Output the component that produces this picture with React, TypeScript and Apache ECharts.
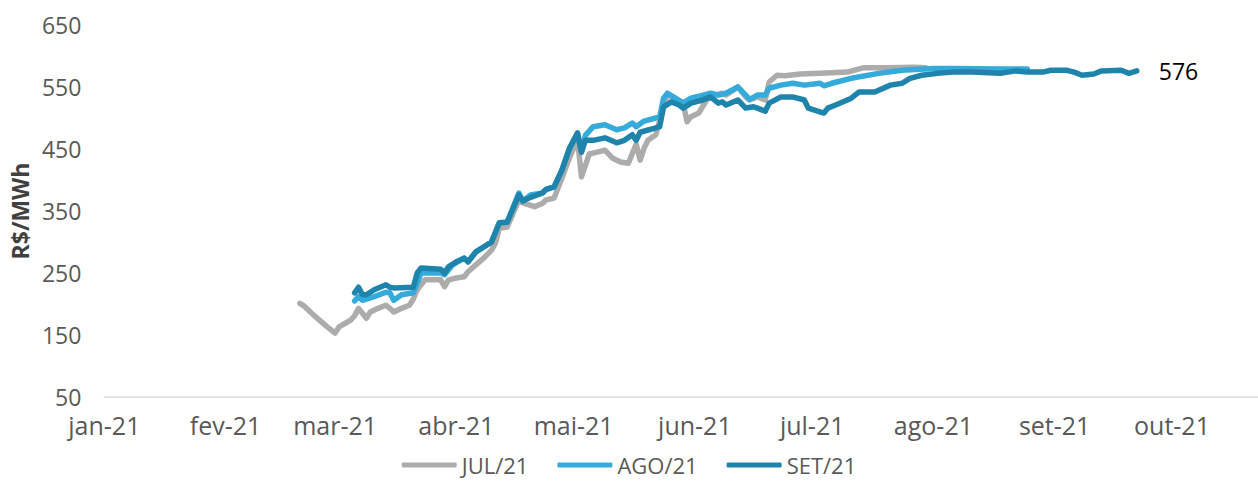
import React, { useEffect, useRef } from "react";
import * as echarts from "echarts";

const monthLabels = ["jan", "fev", "mar", "abr", "mai", "jun", "jul", "ago", "set", "out", "nov", "dez"];
const yTicks = [50, 150, 250, 350, 450, 550, 650];

const julDates = [
  "2021-02-20", "2021-02-21", "2021-02-23", "2021-02-25", "2021-02-27", "2021-03-01", "2021-03-02", "2021-03-05",
  "2021-03-06", "2021-03-07", "2021-03-08", "2021-03-09", "2021-03-10", "2021-03-12", "2021-03-14", "2021-03-15",
  "2021-03-16", "2021-03-18", "2021-03-20", "2021-03-21", "2021-03-22", "2021-03-24", "2021-03-28", "2021-03-29",
  "2021-03-30", "2021-04-01", "2021-04-03", "2021-04-04", "2021-04-06", "2021-04-08", "2021-04-10", "2021-04-11",
  "2021-04-12", "2021-04-14", "2021-04-17", "2021-04-18", "2021-04-21", "2021-04-23", "2021-04-24", "2021-04-26",
  "2021-04-28", "2021-04-30", "2021-05-02", "2021-05-03", "2021-05-05", "2021-05-07", "2021-05-09", "2021-05-11",
  "2021-05-13", "2021-05-15", "2021-05-17", "2021-05-18", "2021-05-19", "2021-05-20", "2021-05-22", "2021-05-24",
  "2021-05-25", "2021-05-27", "2021-05-29", "2021-05-30", "2021-05-31", "2021-06-02", "2021-06-04", "2021-06-06",
  "2021-06-08", "2021-06-09", "2021-06-12", "2021-06-14", "2021-06-15", "2021-06-17", "2021-06-19", "2021-06-20",
  "2021-06-22", "2021-06-24", "2021-06-28", "2021-07-03", "2021-07-10", "2021-07-14", "2021-07-20", "2021-07-27",
  "2021-07-30",
];
const julValues = [
  201, 197, 185, 174, 163, 153, 163, 174,
  181, 193, 185, 177, 187, 193, 198, 193,
  187, 193, 198, 208, 223, 239, 239, 228,
  239, 242, 244, 252, 263, 274, 287, 298,
  322, 324, 368, 363, 357, 362, 368, 371,
  403, 437, 465, 405, 442, 445, 448, 435,
  429, 427, 458, 432, 451, 464, 473, 518,
  537, 532, 524, 494, 502, 508, 529, 537,
  540, 537, 550, 534, 529, 534, 529, 558,
  569, 568, 571, 572, 574, 581, 581, 582,
  581,
];

const agoDates = [
  "2021-03-06", "2021-03-07", "2021-03-08", "2021-03-11", "2021-03-14", "2021-03-15", "2021-03-16", "2021-03-18",
  "2021-03-21", "2021-03-22", "2021-03-23", "2021-03-28", "2021-03-29", "2021-03-31", "2021-04-03", "2021-04-04",
  "2021-04-06", "2021-04-08", "2021-04-10", "2021-04-12", "2021-04-14", "2021-04-17", "2021-04-18", "2021-04-20",
  "2021-04-23", "2021-04-24", "2021-04-26", "2021-04-28", "2021-04-30", "2021-05-02", "2021-05-03", "2021-05-04",
  "2021-05-06", "2021-05-09", "2021-05-12", "2021-05-14", "2021-05-16", "2021-05-17", "2021-05-19", "2021-05-22",
  "2021-05-23", "2021-05-24", "2021-05-25", "2021-05-27", "2021-05-29", "2021-05-31", "2021-06-02", "2021-06-05",
  "2021-06-07", "2021-06-09", "2021-06-12", "2021-06-14", "2021-06-15", "2021-06-17", "2021-06-19", "2021-06-20",
  "2021-06-23", "2021-06-26", "2021-06-29", "2021-07-03", "2021-07-04", "2021-07-06", "2021-07-11", "2021-07-18",
  "2021-07-24", "2021-08-01", "2021-08-06", "2021-08-18", "2021-08-25",
];
const agoValues = [
  205, 212, 206, 212, 219, 218, 206, 215,
  218, 234, 250, 250, 247, 263, 274, 268,
  284, 292, 300, 331, 332, 379, 366, 376,
  379, 385, 389, 416, 452, 474, 445, 472,
  486, 489, 481, 484, 492, 486, 495, 500,
  502, 532, 540, 532, 524, 532, 535, 540,
  537, 540, 550, 537, 530, 537, 537, 548,
  553, 556, 553, 556, 552, 556, 564, 572,
  577, 580, 580, 579, 579,
];

const setDates = [
  "2021-03-06", "2021-03-07", "2021-03-08", "2021-03-09", "2021-03-11", "2021-03-14", "2021-03-15", "2021-03-16",
  "2021-03-21", "2021-03-22", "2021-03-23", "2021-03-28", "2021-03-29", "2021-03-30", "2021-04-01", "2021-04-03",
  "2021-04-04", "2021-04-06", "2021-04-08", "2021-04-10", "2021-04-12", "2021-04-14", "2021-04-17", "2021-04-18",
  "2021-04-20", "2021-04-23", "2021-04-24", "2021-04-26", "2021-04-28", "2021-04-30", "2021-05-02", "2021-05-03",
  "2021-05-04", "2021-05-06", "2021-05-09", "2021-05-12", "2021-05-14", "2021-05-16", "2021-05-17", "2021-05-18",
  "2021-05-22", "2021-05-23", "2021-05-24", "2021-05-26", "2021-05-28", "2021-05-29", "2021-05-31", "2021-06-03",
  "2021-06-05", "2021-06-07", "2021-06-08", "2021-06-09", "2021-06-12", "2021-06-14", "2021-06-16", "2021-06-17",
  "2021-06-19", "2021-06-20", "2021-06-23", "2021-06-26", "2021-06-29", "2021-06-30", "2021-07-04", "2021-07-05",
  "2021-07-07", "2021-07-11", "2021-07-13", "2021-07-17", "2021-07-21", "2021-07-24", "2021-07-26", "2021-07-29",
  "2021-08-02", "2021-08-06", "2021-08-11", "2021-08-18", "2021-08-22", "2021-08-25", "2021-08-29", "2021-08-31",
  "2021-09-04", "2021-09-06", "2021-09-08", "2021-09-11", "2021-09-13", "2021-09-18", "2021-09-20", "2021-09-22",
];
const setValues = [
  218, 227, 215, 215, 223, 231, 227, 226,
  227, 250, 258, 256, 250, 260, 268, 274,
  268, 284, 292, 300, 331, 332, 376, 366,
  372, 379, 385, 389, 416, 452, 476, 445,
  464, 464, 468, 460, 464, 473, 464, 477,
  484, 486, 518, 526, 521, 516, 524, 529,
  534, 524, 526, 521, 529, 516, 518, 516,
  511, 524, 534, 534, 529, 516, 508, 516,
  521, 532, 542, 542, 553, 556, 564, 569,
  572, 574, 574, 572, 576, 574, 574, 577,
  577, 574, 569, 571, 576, 577, 572, 576,
];

const seriesNames = ["JUL/21", "AGO/21", "SET/21"];
const seriesColors = ["#AEABAB", "#35ABDB", "#1F84AC"];

const zip = (d: string[], v: number[]) => d.map((x, i) => [x, v[i]]);

const FONT = "Open Sans";

export default function App() {
  const ref = useRef<HTMLDivElement>(null);
  useEffect(() => {
    if (!ref.current) return;
    const chart = echarts.init(ref.current, undefined, { renderer: "svg" });
    const datasets = [zip(julDates, julValues), zip(agoDates, agoValues), zip(setDates, setValues)];
    chart.setOption({
      animation: false,
      backgroundColor: "#ffffff",
      textStyle: { fontFamily: FONT },
      grid: { left: 95, right: 0, top: 25, bottom: 87, containLabel: false },
      legend: {
        data: seriesNames,
        top: 454,
        left: "center",
        padding: 0,
        icon: "roundRect",
        itemWidth: 55,
        itemHeight: 5,
        itemGap: 29,
        textStyle: { fontSize: 22, lineHeight: 22, color: "#595959", fontFamily: FONT },
      },
      xAxis: {
        type: "time",
        min: "2021-01-01",
        max: "2021-10-23",
        minInterval: 28 * 86400000,
        maxInterval: 31 * 86400000,
        axisLine: { show: true, lineStyle: { color: "#D9D9D9", width: 1.5 } },
        axisTick: { show: false },
        splitLine: { show: false },
        axisLabel: {
          fontSize: 25,
          color: "#595959",
          margin: 15,
          fontFamily: FONT,
          hideOverlap: false,
          formatter: (val: number) => {
            const d = new Date(val);
            return monthLabels[d.getMonth()] + "-" + String(d.getFullYear()).slice(2);
          },
        },
      },
      yAxis: {
        type: "value",
        min: yTicks[0],
        max: yTicks[yTicks.length - 1],
        interval: 100,
        name: "R$/MWh",
        nameLocation: "middle",
        nameGap: 64,
        nameTextStyle: { fontSize: 23, fontWeight: "bold", color: "#404040", fontFamily: FONT },
        axisLine: { show: false },
        axisTick: { show: false },
        splitLine: { show: false },
        axisLabel: { fontSize: 23, color: "#595959", margin: 23, fontFamily: FONT },
      },
      series: datasets.map((data, i) => ({
        name: seriesNames[i],
        type: "line",
        data,
        showSymbol: false,
        symbol: "none",
        color: seriesColors[i],
        lineStyle: { width: 5.5, color: seriesColors[i], join: "round", cap: "round" },
        itemStyle: { color: seriesColors[i] },
        z: 2 + i,
        endLabel:
          i === 2
            ? {
                show: true,
                distance: 22,
                fontSize: 23,
                color: "#000000",
                fontFamily: FONT,
                formatter: (p: any) => String(p.value[1]),
              }
            : { show: false },
      })),
    });
    return () => chart.dispose();
  }, []);
  return (
    <div
      ref={ref}
      style={{ position: "absolute", left: 0, top: 0, width: 1258, height: 484 }}
    />
  );
}
